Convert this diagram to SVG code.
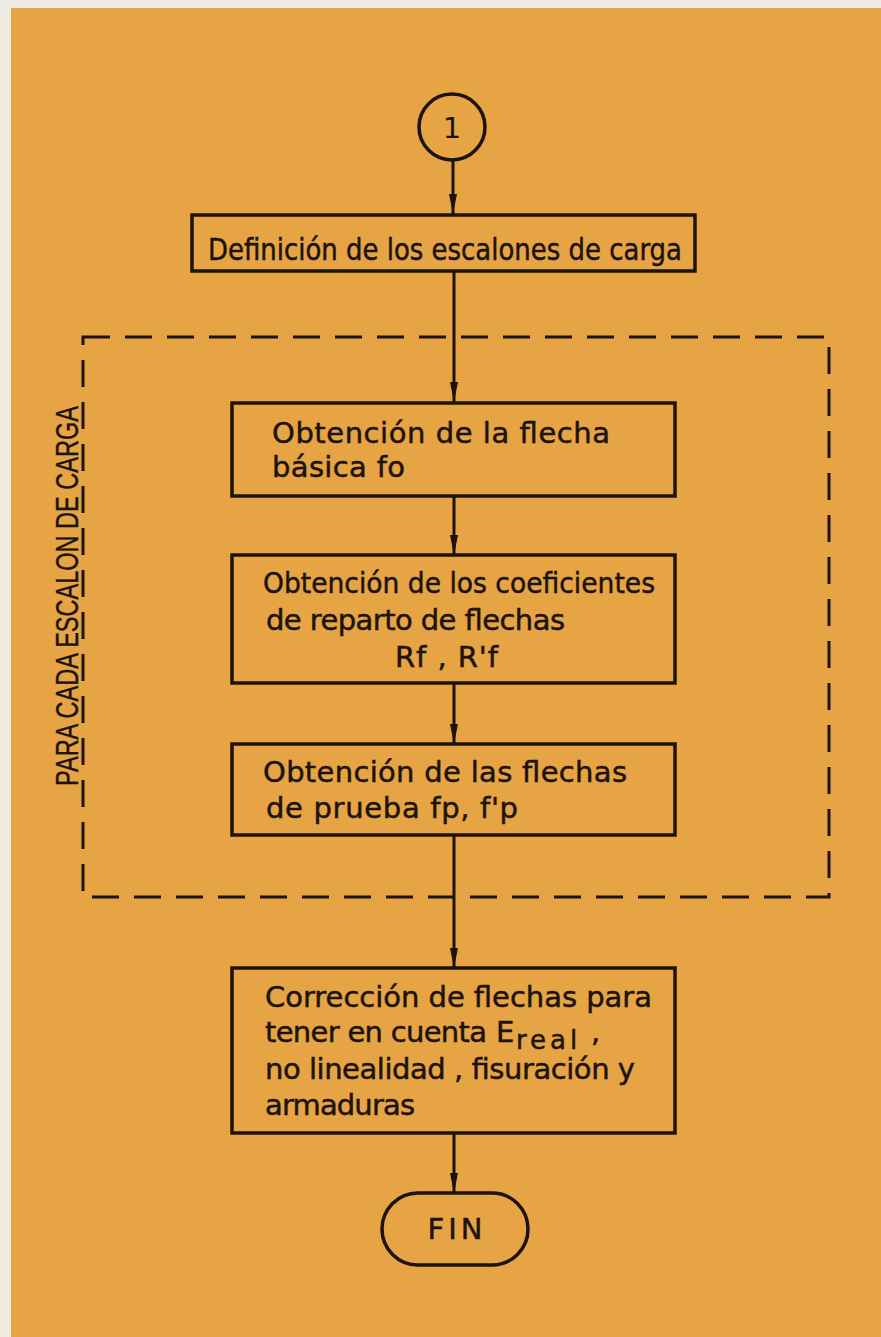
<svg xmlns="http://www.w3.org/2000/svg" width="881" height="1337" viewBox="0 0 881 1337">
<defs>
<style>
.bg{fill:#E6A444}
.box{fill:none;stroke:#1C130D;stroke-width:3.5}
.ln{fill:none;stroke:#1C130D;stroke-width:3}
.dash{fill:none;stroke:#1C130D;stroke-width:3;stroke-dasharray:27 15}
.t{font-family:"DejaVu Sans","Liberation Sans",sans-serif;font-size:29px;fill:#1C130D;stroke:#1C130D;stroke-width:0.5}
.v{font-family:"Liberation Sans",Arial,sans-serif;font-size:31px;fill:#1C130D;stroke:#1C130D;stroke-width:0.4}
</style>
<marker id="ah" markerWidth="20" markerHeight="10" refX="20" refY="5" orient="auto" markerUnits="userSpaceOnUse" viewBox="0 0 20 10">
<path d="M0,1 L20,5 L0,9 Z" fill="#1C130D"/>
</marker>
</defs>
<rect x="0" y="0" width="881" height="1337" fill="#EFEAE0"/>
<rect class="bg" x="11" y="8" width="870" height="1329"/>

<g id="loop">
<rect class="dash" x="83" y="337" width="746" height="560"/>
<text class="v" transform="translate(78,596) rotate(-90)" text-anchor="middle" textLength="380" lengthAdjust="spacingAndGlyphs">PARA CADA ESCALON DE CARGA</text>
</g>

<g id="connectors">
<line class="ln" x1="453" y1="161" x2="453" y2="214" marker-end="url(#ah)"/>
<line class="ln" x1="454" y1="271" x2="454" y2="402" marker-end="url(#ah)"/>
<line class="ln" x1="454" y1="496" x2="454" y2="555" marker-end="url(#ah)"/>
<line class="ln" x1="454" y1="683" x2="454" y2="744" marker-end="url(#ah)"/>
<line class="ln" x1="454" y1="835" x2="454" y2="968" marker-end="url(#ah)"/>
<line class="ln" x1="454" y1="1133" x2="454" y2="1193" marker-end="url(#ah)"/>
</g>

<g id="start">
<circle class="box" cx="452" cy="127" r="33"/>
<text class="t" x="452" y="138" text-anchor="middle" style="stroke-width:0">1</text>
</g>

<g id="def">
<rect class="box" x="192" y="215" width="503" height="56"/>
<text class="t" x="208" y="260" style="font-size:31px" textLength="474" lengthAdjust="spacingAndGlyphs">Definición de los escalones de carga</text>
</g>

<g id="basica">
<rect class="box" x="232" y="403" width="443" height="93"/>
<text class="t" x="272" y="443" textLength="338" lengthAdjust="spacing">Obtención de la flecha</text>
<text class="t" x="272" y="477" textLength="133" lengthAdjust="spacing">básica fo</text>
</g>

<g id="coef">
<rect class="box" x="232" y="555" width="443" height="128"/>
<text class="t" x="263" y="593" textLength="392" lengthAdjust="spacingAndGlyphs">Obtención de los coeficientes</text>
<text class="t" x="266" y="630" textLength="299" lengthAdjust="spacing">de reparto de flechas</text>
<text class="t" x="395" y="667" textLength="103" lengthAdjust="spacing">Rf , R'f</text>
</g>

<g id="prueba">
<rect class="box" x="232" y="744" width="443" height="91"/>
<text class="t" x="263" y="782" textLength="364" lengthAdjust="spacing">Obtención de las flechas</text>
<text class="t" x="266" y="818" textLength="252" lengthAdjust="spacing">de prueba fp, f'p</text>
</g>

<g id="correccion">
<rect class="box" x="232" y="968" width="443" height="165"/>
<text class="t" x="265" y="1007" textLength="387" lengthAdjust="spacing">Corrección de flechas para</text>
<text class="t" y="1042"><tspan x="265" textLength="222" lengthAdjust="spacing">tener en cuenta</tspan><tspan x="496">E</tspan><tspan x="516" dy="7" style="font-size:26px" letter-spacing="4">real</tspan><tspan x="591" dy="-7">,</tspan></text>
<text class="t" x="265" y="1079" textLength="370" lengthAdjust="spacing">no linealidad , fisuración y</text>
<text class="t" x="265" y="1115" textLength="150" lengthAdjust="spacing">armaduras</text>
</g>

<g id="fin">
<rect class="box" x="382" y="1193" width="146" height="72" rx="36" ry="36"/>
<text class="t" x="455" y="1239" text-anchor="middle" textLength="55" lengthAdjust="spacing">FIN</text>
</g>
</svg>
